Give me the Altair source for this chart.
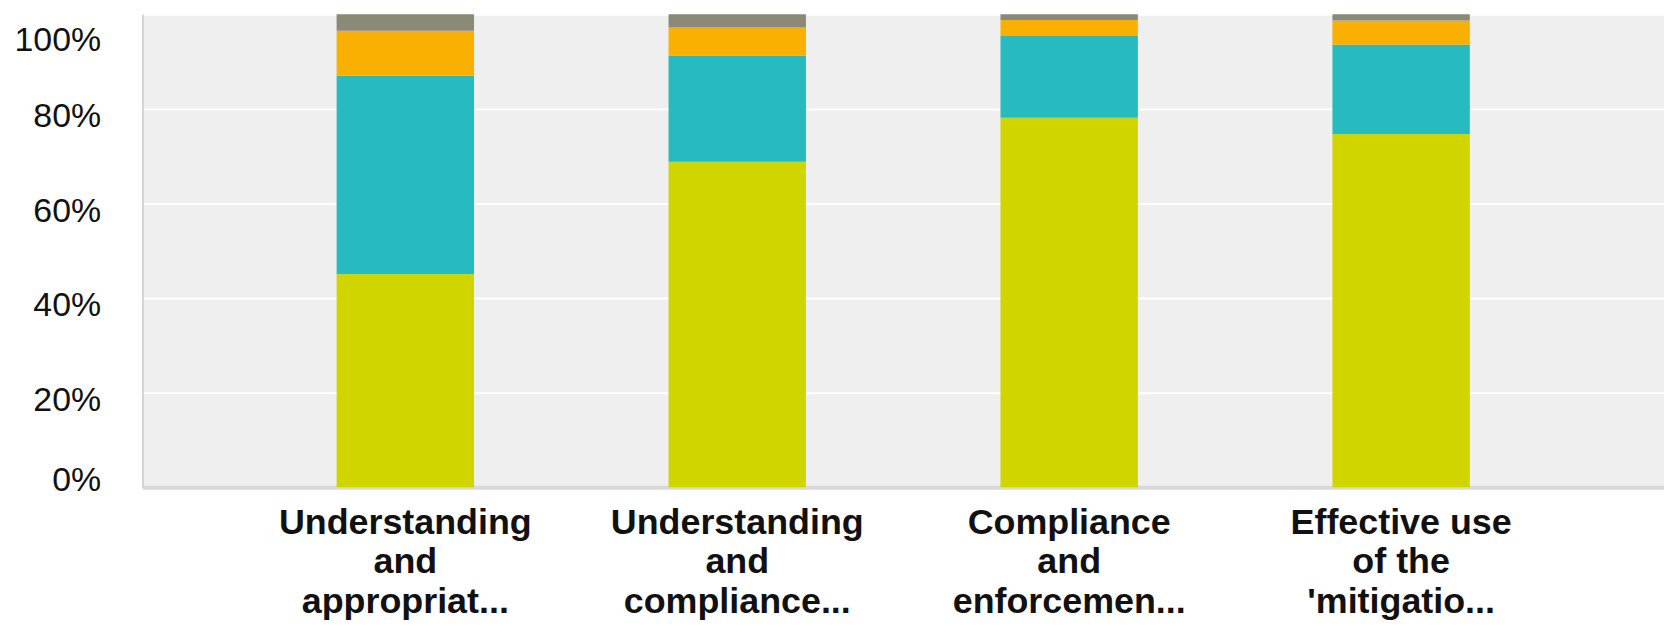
import altair as alt
import pandas as pd

categories = [
    "Understanding|and|appropriat...",
    "Understanding|and|compliance...",
    "Compliance|and|enforcemen...",
    "Effective use|of the|'mitigatio...",
]
series = ["Series 1", "Series 2", "Series 3", "Series 4"]
colors = ["#D0D500", "#27BBBF", "#F9B000", "#8A8A77"]

s1 = [45.1, 68.8, 78.1, 74.7]
s2 = [41.9, 22.5, 17.3, 18.9]
s3 = [9.5, 5.9, 3.4, 5.1]
s4 = [3.5, 2.8, 1.2, 1.3]

rows = []
for si, (name, vals) in enumerate(zip(series, [s1, s2, s3, s4])):
    for c, v in zip(categories, vals):
        rows.append({"category": c, "series": name, "order": si, "value": v})
df = pd.DataFrame(rows)

chart = (
    alt.Chart(df)
    .mark_bar()
    .encode(
        x=alt.X(
            "category:N",
            sort=categories,
            title=None,
            scale=alt.Scale(paddingInner=0.586, paddingOuter=0.585),
            axis=alt.Axis(
                labelAngle=0,
                labelExpr="split(datum.label, '|')",
                labelFont="Liberation Sans",
                labelFontWeight="bold",
                labelFontSize=36,
                labelLineHeight=40,
                labelColor="#111111",
                labelPadding=18,
                labelLimit=400,
                ticks=False,
                grid=False,
                domainColor="#d9d9d9",
                domainWidth=4,
            ),
        ),
        y=alt.Y(
            "value:Q",
            stack="normalize",
            title=None,
            scale=alt.Scale(domain=[0, 1], nice=False),
            axis=alt.Axis(
                format="%",
                values=[0, 0.2, 0.4, 0.6, 0.8, 1.0],
                labelFont="Liberation Sans",
                labelFontSize=34,
                labelColor="#111111",
                labelPadding=42,
                labelOffset={"expr": "datum.value >= 1 ? 26 : (datum.value <= 0 ? -7 : 8)"},
                ticks=False,
                domainColor="#c8c8c8",
                domainWidth=1.5,
                gridColor="#ffffff",
                gridWidth=2,
            ),
        ),
        color=alt.Color("series:N", scale=alt.Scale(domain=series, range=colors), legend=None),
        order=alt.Order("order:Q"),
    )
    .properties(
        width=1528,
        height=475,
        autosize=alt.AutoSizeParams(type="none"),
        padding={"left": 135, "top": 5, "right": 0, "bottom": 136},
    )
    .configure_view(fill="#EFEFEF", strokeWidth=0)
)

chart.save("out.html", embed_options={"renderer": "svg", "actions": False})
